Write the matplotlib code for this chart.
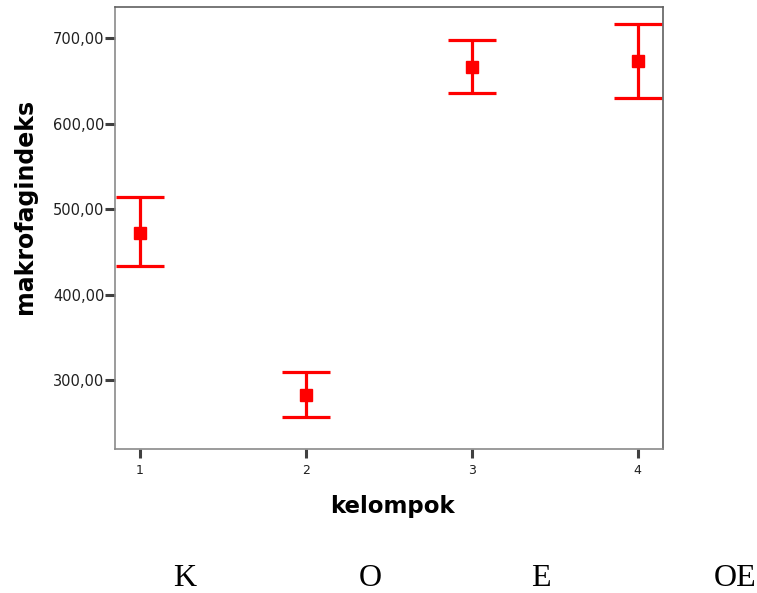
import matplotlib
matplotlib.use("Agg")
import matplotlib.pyplot as plt

# Group means and error bar limits
groups = [1, 2, 3, 4]
means = [472.6, 282.5, 666.8, 673.8]
upper = [514.7, 309.7, 698.4, 716.7]
lower = [434.0, 257.4, 636.4, 630.5]

y_ticks = [300, 400, 500, 600, 700]
y_tick_labels = ["300,00", "400,00", "500,00", "600,00", "700,00"]
group_names = ["K", "O", "E", "OE"]

W, H = 757, 593
fig = plt.figure(figsize=(W / 100, H / 100), dpi=100)
ax = fig.add_axes([115 / W, 1 - 449 / H, (663 - 115) / W, (449 - 7) / H])

err_low = [m - lo for m, lo in zip(means, lower)]
err_up = [u - m for u, m in zip(upper, means)]
ax.errorbar(groups, means, yerr=[err_low, err_up], fmt="s", color="red",
            ms=9, capsize=17, elinewidth=2.3, capthick=2.3, ls="none")

ax.set_xlim(0.849, 4.152)
ax.set_ylim(219.6, 736.6)

ax.set_yticks(y_ticks)
ax.set_yticklabels(y_tick_labels)
ax.set_xticks(groups)
ax.set_xticklabels([str(g) for g in groups])

ax.tick_params(axis="y", direction="out", length=7, width=2.2,
               color="#404040", labelsize=10.5, pad=0.5, labelcolor="#202020")
ax.tick_params(axis="x", direction="out", length=6.5, width=2.2,
               color="#404040", labelsize=9, pad=4, labelcolor="#202020")

for side in ["left", "bottom"]:
    ax.spines[side].set_color("#8a8a8a")
    ax.spines[side].set_linewidth(1.2)
for side in ["top", "right"]:
    ax.spines[side].set_color("#606060")
    ax.spines[side].set_linewidth(1.2)

fig.text(392 / W, 1 - 506 / H, "kelompok", ha="center", va="center",
         fontsize=16.5, fontweight="bold", family="DejaVu Sans")
fig.text(25 / W, 1 - 206 / H, "makrofagindeks", ha="center", va="center",
         rotation=90, fontsize=17, fontweight="bold", family="DejaVu Sans")

# Group names written under the chart
name_x = [185, 370, 541, 735]
for nx, name in zip(name_x, group_names):
    fig.text(nx / W, 1 - 578 / H, name, ha="center", va="center",
             fontsize=23, family="Liberation Serif")

fig.savefig("out.png", dpi=100)
